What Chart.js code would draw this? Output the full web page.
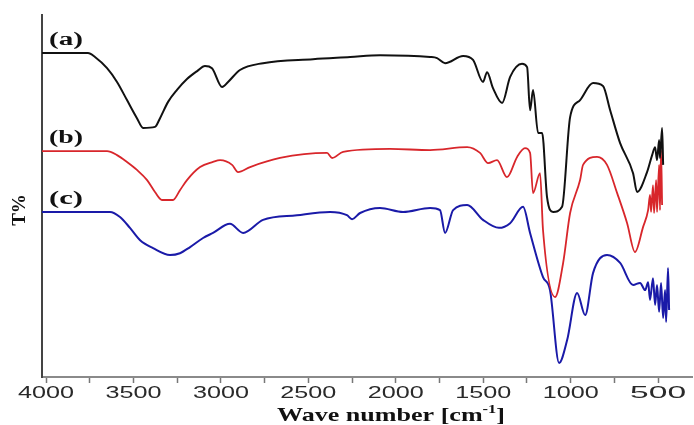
<!DOCTYPE html>
<html>
<head>
<meta charset="utf-8">
<script src="https://cdn.jsdelivr.net/npm/chart.js@4.4.1/dist/chart.umd.min.js"></script>
<style>
    html, body { margin: 0; padding: 0; background: #fff; }
    #wrap { width: 694px; height: 425px; }
</style>
</head>
<body>
<div id="wrap"><canvas id="ftir_chart" width="694" height="425"></canvas></div>
<script>
// FTIR spectra, wave number (cm-1) vs transmittance (arbitrary T%)
var waveA = [4023, 3760, 3720, 3651, 3594, 3537, 3480, 3445, 3377, 3348, 3302, 3251, 3194, 3136, 3091, 3051, 2993, 2959, 2891, 2759,
    2473, 2261, 2090, 1804, 1764, 1718, 1615, 1558, 1501, 1478, 1444, 1392, 1346, 1278, 1249, 1232, 1215, 1186, 1163, 1135,
    1100, 1049, 1003, 946, 872, 815, 774, 717, 643, 620, 563, 534, 517, 506, 494, 489, 477, 471];
var transA = [89.5, 89.5, 88.4, 85.3, 81.5, 76.5, 71.5, 68.8, 69.1, 71.5, 76.0, 79.3, 82.3, 84.5, 85.9, 85.3, 80.1, 81.5, 84.8, 86.7,
    87.8, 88.4, 88.9, 88.4, 88.1, 86.7, 88.7, 87.6, 81.5, 84.2, 79.8, 75.7, 82.9, 86.5, 85.6, 73.7, 79.3, 67.4, 67.4, 49.7,
    45.6, 47.0, 71.8, 76.5, 81.2, 80.4, 73.7, 64.6, 56.3, 51.1, 56.6, 61.3, 63.5, 59.9, 65.5, 60.5, 68.8, 58.6];

var waveB = [4023, 3651, 3594, 3537, 3480, 3422, 3377, 3337, 3274, 3234, 3194, 3119, 3045, 3005, 2936, 2902, 2833, 2662, 2393, 2364,
    2301, 2033, 1804, 1592, 1518, 1472, 1421, 1364, 1306, 1261, 1232, 1215, 1175, 1158, 1089, 1043, 1003, 946, 929, 849,
    792, 734, 677, 632, 586, 557, 546, 540, 529, 523, 511, 506, 494, 489, 483, 477];
var transB = [62.4, 62.4, 61.3, 59.4, 57.2, 54.4, 51.1, 48.9, 48.9, 51.6, 54.4, 58.0, 59.4, 59.9, 58.6, 56.6, 58.0, 60.5, 61.9, 60.5,
    62.2, 63.0, 62.7, 63.5, 61.9, 59.1, 59.9, 55.2, 60.8, 63.2, 61.9, 50.8, 56.3, 40.6, 22.1, 31.5, 45.3, 54.4, 58.6, 60.8,
    58.6, 50.8, 42.5, 34.5, 41.4, 46.1, 50.3, 45.6, 53.0, 45.3, 54.4, 45.6, 58.6, 46.1, 62.7, 47.5];

var waveC = [4023, 3634, 3577, 3520, 3462, 3388, 3291, 3234, 3176, 3102, 3045, 2948, 2873, 2759, 2565, 2376, 2279, 2250, 2204, 2090,
    1958, 1804, 1747, 1718, 1672, 1592, 1501, 1410, 1346, 1272, 1232, 1158, 1118, 1066, 1020, 963, 917, 872, 792, 717,
    643, 603, 574, 557, 546, 529, 517, 506, 494, 483, 471, 460, 454, 443, 437];
var transC = [45.6, 45.6, 44.2, 41.2, 37.8, 35.6, 33.7, 34.2, 35.9, 38.4, 39.8, 42.3, 39.8, 43.4, 44.7, 45.6, 44.7, 43.6, 45.3, 46.7,
    45.6, 46.7, 46.1, 39.8, 46.1, 47.5, 43.4, 41.2, 42.5, 47.0, 39.8, 27.6, 24.0, 3.9, 10.2, 23.2, 17.1, 28.7, 33.7, 31.5,
    25.4, 26.0, 24.0, 26.2, 21.3, 27.3, 19.9, 25.4, 18.0, 26.0, 16.3, 24.0, 15.2, 30.1, 18.5];

var majorTicks = [4000, 3500, 3000, 2500, 2000, 1500, 1000, 500];
var minorTicks = [3750, 3250, 2750, 2250, 1750, 1250, 750];
var sampleLabels = ['(a)', '(b)', '(c)'];
var sampleLevels = [93, 66, 49];   // T% height where each label sits

function toPoints(xs, ys) {
    return xs.map(function (x, i) { return { x: x, y: ys[i] }; });
}

// the figure's text is stretched sideways, so draw it scaled to a width
function wideText(ctx, text, x, y, font, width, align) {
    ctx.save();
    ctx.font = font;
    var sx = width / ctx.measureText(text).width;
    ctx.translate(x, y);
    ctx.scale(sx, 1);
    ctx.textAlign = align || 'center';
    ctx.textBaseline = 'middle';
    ctx.fillText(text, 0, 0);
    ctx.restore();
}

var textPlugin = {
    id: 'ftirText',
    afterDraw: function (chart) {
        var ctx = chart.ctx;
        var xs = chart.scales.x, ys = chart.scales.y;

        // tick labels
        ctx.fillStyle = '#2a2a2a';
        majorTicks.forEach(function (v) {
            wideText(ctx, String(v), xs.getPixelForValue(v), 393, '17px "Liberation Sans"', 56, 'center');
        });

        // sample labels
        ctx.fillStyle = '#111';
        sampleLabels.forEach(function (t, i) {
            wideText(ctx, t, 66, ys.getPixelForValue(sampleLevels[i]), 'bold 18px "Liberation Serif"', 34, 'center');
        });

        // y title
        ctx.save();
        ctx.translate(20, 210);
        ctx.rotate(-Math.PI / 2);
        ctx.font = 'bold 19px "Liberation Serif"';
        ctx.textAlign = 'center';
        ctx.textBaseline = 'middle';
        ctx.fillText('T%', 0, 0);
        ctx.restore();

        // x title with superscript
        var parts = [
            { t: 'Wave number [cm', f: 'bold 19px "Liberation Serif"', dy: 0 },
            { t: '-1', f: 'bold 12px "Liberation Serif"', dy: -6 },
            { t: ']', f: 'bold 19px "Liberation Serif"', dy: 0 }
        ];
        ctx.save();
        var total = 0;
        parts.forEach(function (p) { ctx.font = p.f; p.w = ctx.measureText(p.t).width; total += p.w; });
        var target = 228, sx = target / total;
        ctx.translate(391 - target / 2, 416);
        ctx.scale(sx, 1);
        ctx.textAlign = 'left';
        ctx.textBaseline = 'middle';
        var cx = 0;
        parts.forEach(function (p) { ctx.font = p.f; ctx.fillText(p.t, cx, p.dy); cx += p.w; });
        ctx.restore();
    }
};

function lineSet(label, xs, ys, color, width) {
    return {
        label: label,
        data: toPoints(xs, ys),
        borderColor: color,
        backgroundColor: color,
        borderWidth: width,
        pointRadius: 0,
        cubicInterpolationMode: 'monotone',
        fill: false
    };
}

new Chart(document.getElementById('ftir_chart').getContext('2d'), {
    type: 'line',
    data: {
        datasets: [
            lineSet('(a)', waveA, transA, '#111111', 2),
            lineSet('(b)', waveB, transB, '#d8262b', 1.8),
            lineSet('(c)', waveC, transC, '#1a1aa8', 2)
        ]
    },
    options: {
        responsive: false,
        animation: false,
        layout: { padding: { top: 15, right: 2, left: 0, bottom: 0 } },
        plugins: {
            legend: { display: false },
            tooltip: { enabled: false }
        },
        scales: {
            x: {
                type: 'linear',
                reverse: true,
                min: 306,
                max: 4023,
                afterBuildTicks: function (s) {
                    s.ticks = majorTicks.concat(minorTicks).map(function (v) { return { value: v }; });
                },
                afterFit: function (s) { s.height = 48; },
                ticks: { display: false },
                grid: {
                    display: true,
                    drawOnChartArea: false,
                    drawTicks: true,
                    tickLength: 6,
                    tickColor: '#777',
                    tickWidth: 1.5
                },
                border: { display: true, color: '#8a8a8a', width: 2 }
            },
            y: {
                min: 0,
                max: 100,
                afterFit: function (s) { s.width = 42; },
                ticks: { display: false },
                grid: { display: false },
                border: { display: true, color: '#444', width: 2 }
            }
        }
    },
    plugins: [textPlugin]
});
</script>
</body>
</html>
